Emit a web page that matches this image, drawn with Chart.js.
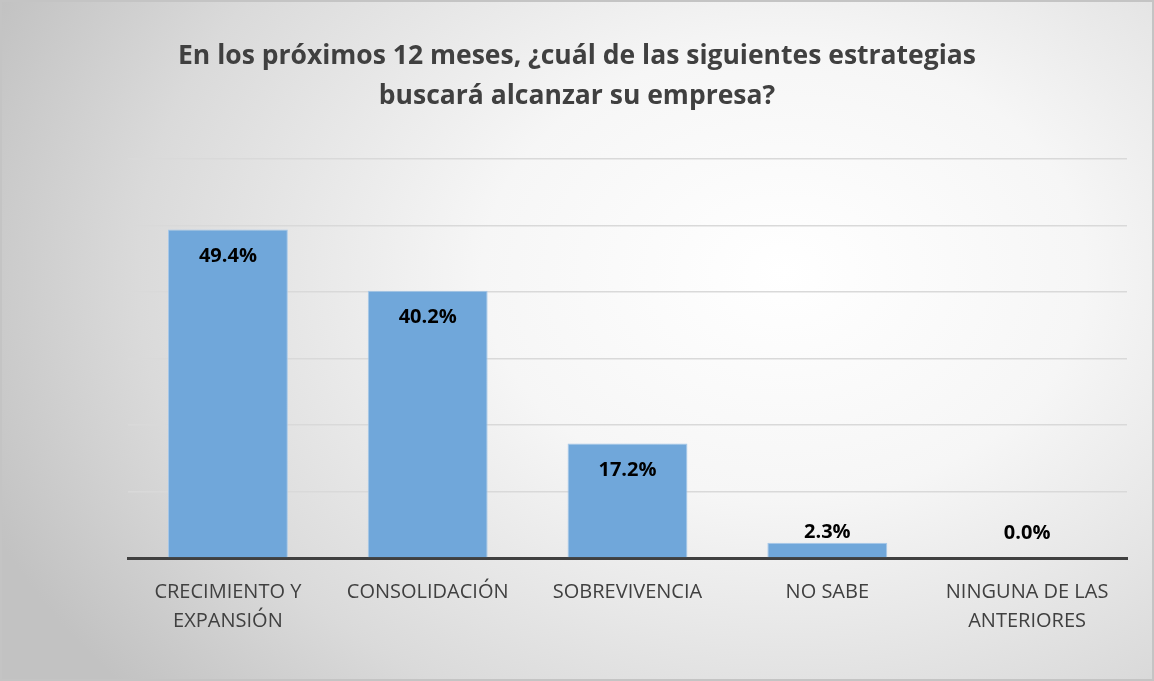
<!DOCTYPE html>
<html>
<head>
<meta charset="utf-8">
<script src="https://cdn.jsdelivr.net/npm/chart.js@4.4.0/dist/chart.umd.min.js"></script>
<style>
  html, body { margin: 0; padding: 0; background: #fff; }
  #wrap {
    position: relative; width: 1154px; height: 681px; box-sizing: border-box;
    border: 2px solid #c4c4c4;
    background: radial-gradient(ellipse 75% 95% at 68% 40%, #ffffff 0%, #f6f6f6 35%, #dadada 75%, #c2c2c2 100%);
  }
  canvas { display: block; }
</style>
</head>
<body>
<div id="wrap"><canvas id="chart" width="1150" height="677"></canvas></div>
<script>
// chart data
const categories = [
  ['CRECIMIENTO Y', 'EXPANSIÓN'],
  'CONSOLIDACIÓN',
  'SOBREVIVENCIA',
  'NO SABE',
  ['NINGUNA DE LAS', 'ANTERIORES']
];
const shares = [49.4, 40.2, 17.2, 2.3, 0.0];
const titleLines = [
  'En los próximos 12 meses, ¿cuál de las siguientes estrategias',
  'buscará alcanzar su empresa?'
];
const yMax = 60;
const yStep = 10;

const FONT = '"Open Sans", sans-serif';

// value labels: inside the top of tall bars, above short ones
const barLabels = {
  id: 'barLabels',
  afterDatasetsDraw(chart) {
    const ctx = chart.ctx;
    const meta = chart.getDatasetMeta(0);
    ctx.save();
    ctx.font = 'bold 20px ' + FONT;
    ctx.fillStyle = '#000';
    ctx.textAlign = 'center';
    ctx.textBaseline = 'middle';
    meta.data.forEach((bar, i) => {
      const h = bar.base - bar.y;
      const y = h > 45 ? bar.y + 27 : Math.min(bar.y - 10, bar.base - 25);
      ctx.fillText(shares[i].toFixed(1) + '%', bar.x, y);
    });
    ctx.restore();
  }
};

new Chart(document.getElementById('chart'), {
  type: 'bar',
  data: {
    labels: categories,
    datasets: [{
      data: shares,
      backgroundColor: '#70a7da',
      borderColor: '#a6c8e9',
      borderWidth: 1,
      barPercentage: 0.6,
      categoryPercentage: 1.0
    }]
  },
  options: {
    responsive: false,
    animation: false,
    layout: { padding: { left: 0, right: 0, top: 0, bottom: 31 } },
    plugins: {
      legend: { display: false },
      tooltip: { enabled: false },
      title: {
        display: true,
        text: titleLines,
        color: '#404040',
        font: { family: FONT, size: 26.5, weight: 'bold', lineHeight: 1.5 },
        padding: { top: 35, bottom: 42.5 }
      }
    },
    scales: {
      x: {
        grid: { display: false },
        border: { color: '#404040', width: 3 },
        ticks: {
          color: '#404040',
          font: { family: FONT, size: 20, lineHeight: 1.45 },
          padding: 12,
          maxRotation: 0,
          autoSkip: false
        }
      },
      y: {
        min: 0,
        max: yMax,
        ticks: { stepSize: yStep, display: false },
        grid: { color: '#d9d9d9', lineWidth: 1.5, drawTicks: false },
        border: { display: false },
        afterFit: s => { s.width = 126; }
      },
      // empty right-hand spacer so the title stays centred on the canvas
      yRight: {
        position: 'right',
        ticks: { display: false },
        grid: { display: false },
        border: { display: false },
        afterFit: s => { s.width = 25; }
      }
    }
  },
  plugins: [barLabels]
});
</script>
</body>
</html>
